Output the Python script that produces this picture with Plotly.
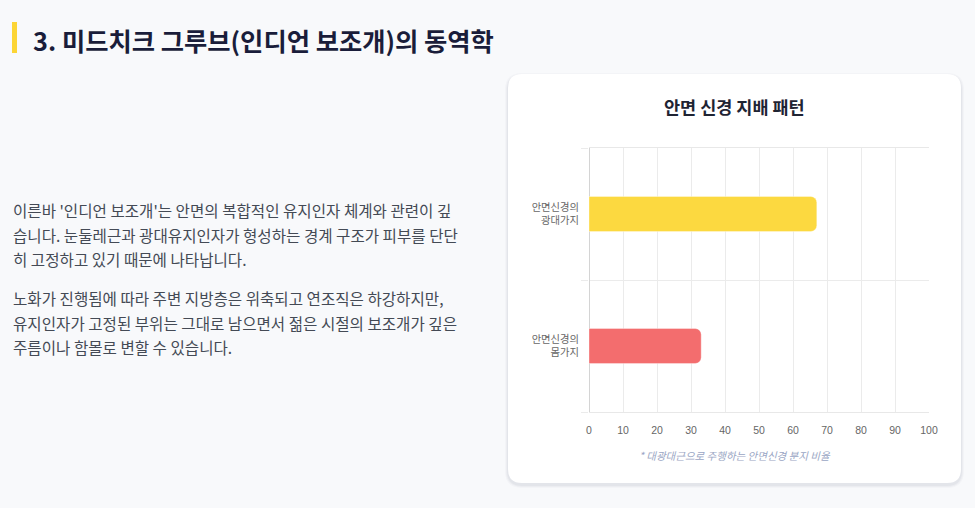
import plotly.graph_objects as go

W, H = 975, 508

categories = ["안면신경의<br>광대가지", "안면신경의<br>몸가지"]
shares = [67, 33]
bar_colors = ["#FCD940", "#F36D6E"]
x_ticks = [0, 10, 20, 30, 40, 50, 60, 70, 80, 90, 100]

page_title = "3. 미드치크 그루브(인디언 보조개)의 동역학"
chart_title = "안면 신경 지배 패턴"
footnote = "* 대광대근으로 주행하는 안면신경 분지 비율"
para1 = [
    "이른바 '인디언 보조개'는 안면의 복합적인 유지인자 체계와 관련이 깊",
    "습니다. 눈둘레근과 광대유지인자가 형성하는 경계 구조가 피부를 단단",
    "히 고정하고 있기 때문에 나타납니다.",
]
para2 = [
    "노화가 진행됨에 따라 주변 지방층은 위축되고 연조직은 하강하지만,",
    "유지인자가 고정된 부위는 그대로 남으면서 젊은 시절의 보조개가 깊은",
    "주름이나 함몰로 변할 수 있습니다.",
]

KR = "Noto Sans CJK KR, Noto Sans, sans-serif"


def px(x):
    return x / W


def py(y):
    return 1 - y / H


def round_rect(x0, y0, x1, y1, r):
    # rounded rectangle path in paper coords, from pixel box
    rx, ry = r / W, r / H
    a, b, c, d = px(x0), py(y1), px(x1), py(y0)
    return (f"M {a+rx},{b} L {c-rx},{b} Q {c},{b} {c},{b+ry} "
            f"L {c},{d-ry} Q {c},{d} {c-rx},{d} L {a+rx},{d} "
            f"Q {a},{d} {a},{d-ry} L {a},{b+ry} Q {a},{b} {a+rx},{b} Z")


fig = go.Figure()
fig.add_trace(go.Bar(
    x=shares,
    y=list(range(len(categories))),
    orientation="h",
    width=0.265,
    marker=dict(color=bar_colors, cornerradius=6,
                line=dict(color="rgba(255,255,255,0.35)", width=1)),
    hoverinfo="skip",
))

shapes = []
# card shadow + card
for i, alpha in enumerate([0.025, 0.03, 0.04]):
    g = 3 - i
    shapes.append(dict(type="path", xref="paper", yref="paper", layer="below",
                       path=round_rect(508 - g, 74 - g + 2, 961 + g, 483 + g + 2, 14 + g),
                       fillcolor=f"rgba(30,40,70,{alpha})", line=dict(width=0)))
shapes.append(dict(type="path", xref="paper", yref="paper", layer="below",
                   path=round_rect(508, 74, 961, 483, 14),
                   fillcolor="#ffffff", line=dict(width=0)))
# header accent bar
shapes.append(dict(type="rect", xref="paper", yref="paper",
                   x0=px(12), x1=px(17), y0=py(53), y1=py(22),
                   fillcolor="#FCD535", line=dict(width=0)))

annotations = [
    dict(text=f"<b>{page_title}</b>", x=px(31), y=py(40), xref="paper", yref="paper",
         xanchor="left", yanchor="middle", showarrow=False,
         font=dict(family=KR, size=25.3, color="#1a1d3a")),
    dict(text=f"<b>{chart_title}</b>", x=px(734), y=py(107), xref="paper", yref="paper",
         xanchor="center", yanchor="middle", showarrow=False,
         font=dict(family=KR, size=17.5, color="#1f2433")),
    dict(text=f"<i>{footnote}</i>", x=px(735), y=py(455), xref="paper", yref="paper",
         xanchor="center", yanchor="middle", showarrow=False,
         font=dict(family=KR, size=10.5, color="#9aa6c4")),
]
for k, line in enumerate(para1):
    annotations.append(dict(text=line, x=px(11), y=py(210 + 24.5 * k), xref="paper", yref="paper",
                            xanchor="left", yanchor="middle", showarrow=False,
                            font=dict(family=KR, size=15.6, color="#444a55")))
for k, line in enumerate(para2):
    annotations.append(dict(text=line, x=px(11), y=py(298 + 24.5 * k), xref="paper", yref="paper",
                            xanchor="left", yanchor="middle", showarrow=False,
                            font=dict(family=KR, size=15.6, color="#444a55")))

fig.update_layout(
    width=W, height=H,
    margin=dict(l=0, r=0, t=0, b=0, pad=0, autoexpand=False),
    paper_bgcolor="#f8f9fb",
    plot_bgcolor="rgba(0,0,0,0)",
    showlegend=False,
    shapes=shapes,
    annotations=annotations,
    xaxis=dict(
        domain=[px(589), px(929)],
        range=[0, 100],
        tickvals=x_ticks,
        showgrid=True, gridcolor="#ebebeb", gridwidth=1,
        zeroline=True, zerolinecolor="#d4d4d4", zerolinewidth=1,
        showline=True, mirror=True, linecolor="#e8e8e8", linewidth=1,
        ticks="", ticklabelstandoff=8, automargin=False,
        tickfont=dict(family="Liberation Sans, " + KR, size=10.5, color="#666666"),
        fixedrange=True,
    ),
    yaxis=dict(
        domain=[py(412), py(148)],
        range=[1.5, -0.5],
        tickvals=list(range(len(categories))),
        ticktext=categories,
        showgrid=False, zeroline=False,
        ticks="", ticklabelstandoff=9, automargin=False,
        minor=dict(tickvals=[-0.5, 0.5, 1.5], showgrid=True, gridcolor="#ebebeb",
                   ticks="outside", ticklen=7, tickcolor="#ebebeb"),
        tickfont=dict(family=KR, size=10.3, color="#666666"),
        fixedrange=True,
    ),
)

fig.write_html("out.html", config={"displayModeBar": False},
               post_script="document.body.style.margin='0';document.documentElement.style.overflow='hidden';")
